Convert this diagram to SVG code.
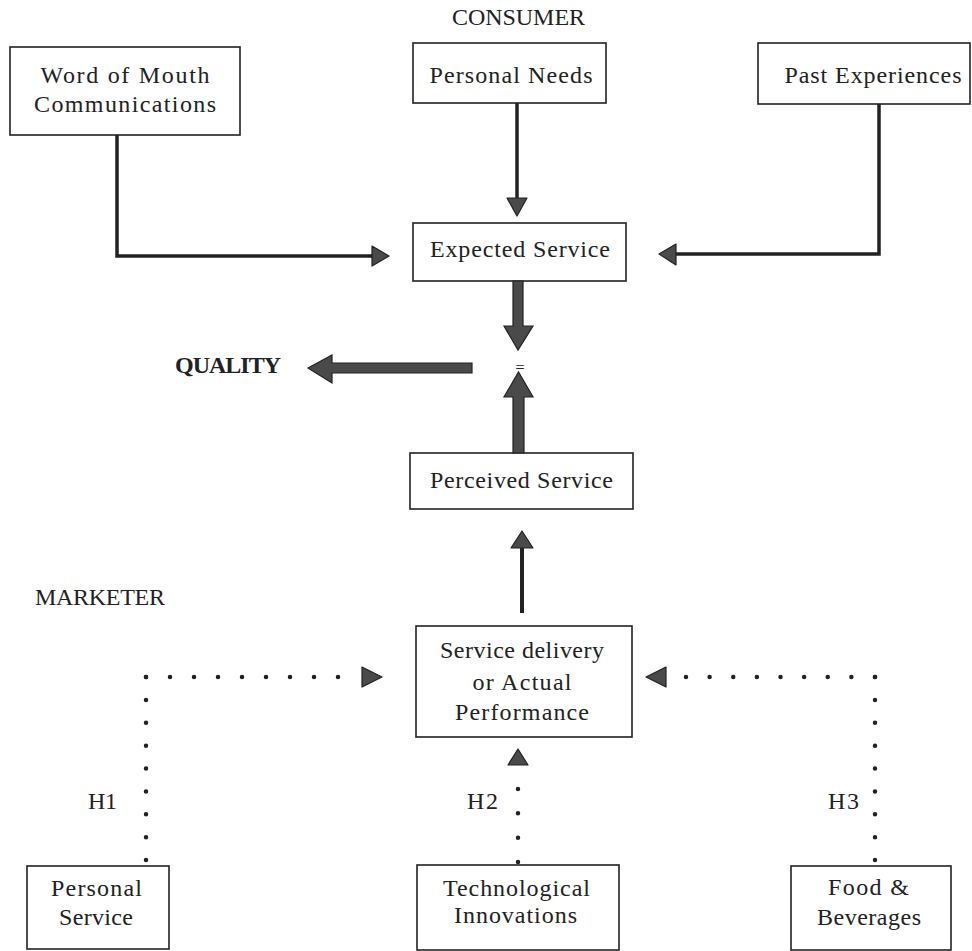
<svg xmlns="http://www.w3.org/2000/svg" width="972" height="951" viewBox="0 0 972 951">
<style>
  .box { fill: #ffffff; stroke: #222; stroke-width: 1.6; }
  .t { font-family: "Liberation Serif", "Times New Roman", serif; font-size: 24px; fill: #222; text-anchor: middle; }
  .lbl { font-family: "Liberation Serif", "Times New Roman", serif; font-size: 24px; fill: #222; }
  .bold { font-weight: bold; }
  .line { fill: none; stroke: #222; stroke-width: 3.5; }
  .head { fill: #4a4a4a; stroke: #222; stroke-width: 1.2; stroke-linejoin: round; }
  .thick { fill: #4a4a4a; stroke: #222; stroke-width: 1.2; stroke-linejoin: miter; }
  .dots { fill: none; stroke: #222; stroke-width: 4.5; stroke-linecap: round; }
</style>
<rect width="972" height="951" fill="#ffffff"/>

<text class="lbl" x="452" y="25" textLength="133" lengthAdjust="spacing">CONSUMER</text>
<text class="lbl" x="35" y="605" textLength="130" lengthAdjust="spacing">MARKETER</text>
<text class="lbl bold" x="175" y="373" textLength="106" lengthAdjust="spacing">QUALITY</text>
<text class="lbl" x="88" y="809" textLength="29" lengthAdjust="spacing">H1</text>
<text class="lbl" x="467" y="809" textLength="31" lengthAdjust="spacing">H2</text>
<text class="lbl" x="828" y="809" textLength="31" lengthAdjust="spacing">H3</text>
<text class="lbl" x="515.5" y="373" style="font-size:16px">=</text>

<g id="word-of-mouth">
  <rect class="box" x="10" y="47" width="230" height="88"/>
  <text class="t" x="125" y="83" textLength="169" lengthAdjust="spacing">Word of Mouth</text>
  <text class="t" x="125" y="112" textLength="182" lengthAdjust="spacing">Communications</text>
</g>
<g id="personal-needs">
  <rect class="box" x="413" y="43" width="193" height="60"/>
  <text class="t" x="511" y="83" textLength="163" lengthAdjust="spacing">Personal Needs</text>
</g>
<g id="past-experiences">
  <rect class="box" x="758" y="43" width="212" height="61"/>
  <text class="t" x="873" y="83" textLength="177" lengthAdjust="spacing">Past Experiences</text>
</g>
<g id="expected-service">
  <rect class="box" x="413" y="223" width="213" height="58"/>
  <text class="t" x="520" y="257" textLength="180" lengthAdjust="spacing">Expected Service</text>
</g>
<g id="perceived-service">
  <rect class="box" x="410" y="453" width="223" height="56"/>
  <text class="t" x="521.5" y="488" textLength="183" lengthAdjust="spacing">Perceived Service</text>
</g>
<g id="service-delivery">
  <rect class="box" x="416" y="626" width="216" height="111"/>
  <text class="t" x="522" y="658" textLength="164" lengthAdjust="spacing">Service delivery</text>
  <text class="t" x="522" y="690" textLength="99" lengthAdjust="spacing">or Actual</text>
  <text class="t" x="522" y="720" textLength="134" lengthAdjust="spacing">Performance</text>
</g>
<g id="personal-service">
  <rect class="box" x="27" y="866" width="142" height="83"/>
  <text class="t" x="96.5" y="896" textLength="91" lengthAdjust="spacing">Personal</text>
  <text class="t" x="96" y="925" textLength="74" lengthAdjust="spacing">Service</text>
</g>
<g id="technological-innovations">
  <rect class="box" x="417" y="865" width="202" height="85"/>
  <text class="t" x="516.5" y="896" textLength="147" lengthAdjust="spacing">Technological</text>
  <text class="t" x="515.5" y="923" textLength="123" lengthAdjust="spacing">Innovations</text>
</g>
<g id="food-beverages">
  <rect class="box" x="791" y="866" width="160" height="84"/>
  <text class="t" x="868.5" y="895" textLength="81" lengthAdjust="spacing">Food &amp;</text>
  <text class="t" x="869" y="925" textLength="104" lengthAdjust="spacing">Beverages</text>
</g>

<g id="connectors">
  <path class="line" d="M117,135 V256 H374"/>
  <polygon class="head" points="372,246 389,256 372,266"/>
  <path class="line" d="M517,103 V199"/>
  <polygon class="head" points="507,198 527,198 517,216"/>
  <path class="line" d="M879,104 V254 H674"/>
  <polygon class="head" points="676,244 659,254 676,265"/>
  <path class="line" d="M522,613 V546" style="stroke-width:4"/>
  <polygon class="head" points="511,548 533,548 522,531"/>

  <polygon class="thick" points="513,281 523,281 523,326 533,326 518,350 504,326 513,326"/>
  <polygon class="thick" points="513,453 524,453 524,397 533,397 518.5,372 504,397 513,397"/>
  <polygon class="thick" points="472,363 332,363 332,355 308,368 332,383 332,373 472,373"/>

  <path class="dots" d="M146,677 V861" stroke-dasharray="0 22.875"/>
  <path class="dots" d="M146,677 H339" stroke-dasharray="0 24"/>
  <polygon class="head" points="362,667 382,677 362,687"/>
  <path class="dots" d="M875,677 V861" stroke-dasharray="0 22.875"/>
  <path class="dots" d="M875,677 H685" stroke-dasharray="0 23.625"/>
  <polygon class="head" points="666,667 646,677 666,687"/>
  <path class="dots" d="M518,862 V788" stroke-dasharray="0 24.33"/>
  <polygon class="head" points="508,765 528,765 518,749"/>
</g>
</svg>
